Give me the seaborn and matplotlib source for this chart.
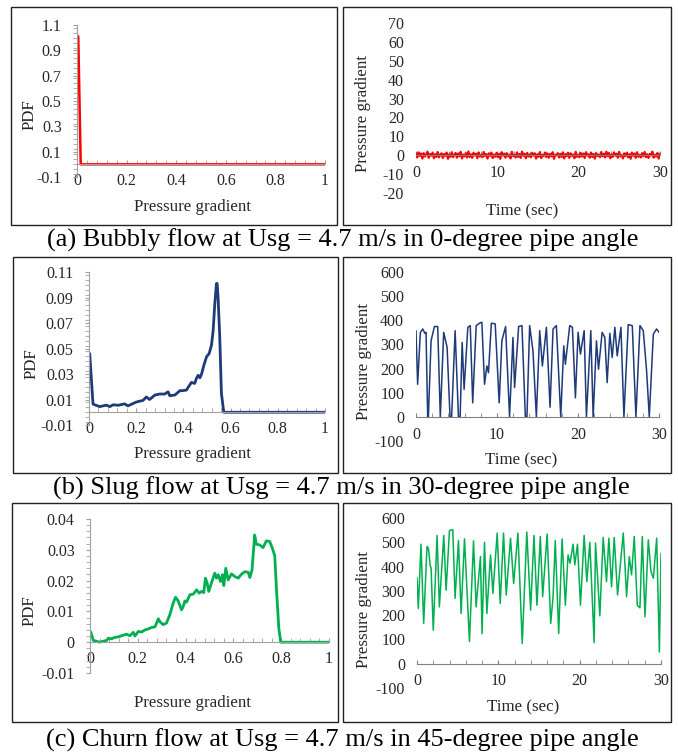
import numpy as np
import matplotlib
matplotlib.use('Agg')
import matplotlib.pyplot as plt
from matplotlib.patches import Rectangle
from matplotlib.ticker import MultipleLocator
import seaborn as sns

sns.set_style('white')
plt.rcParams['font.family'] = ['Liberation Serif', 'DejaVu Serif']
plt.rcParams['axes.unicode_minus'] = False

# (a) bubbly flow
pdf_a_x = [0.005, 0.015, 0.05, 0.2, 0.4, 0.6, 0.8, 1.0]
pdf_a_y = [1.01, 0.0, 0.0, 0.0, 0.0, 0.0, 0.0, 0.0]
noise_a = [0.8, -1.2, 1.5, -0.4, 0.9, -1.8, 1.1, -0.7, 0.3, 1.9, -1.4, 0.6, -0.2, 1.3, -1.6, 0.5,
           -0.9, 1.7, -1.1, 0.2, 1.0, -1.5, 0.7, -0.3, 1.4, -1.9, 0.4, -0.8, 1.6, -1.0, 0.1, 1.2,
           -1.3, 0.9, -0.5, 1.8, -1.7, 0.3, -0.6, 1.1, -1.2, 2.0, -0.9, 0.5, -1.4, 1.3, -0.1, 0.8,
           -1.6, 1.5, -0.7, 0.2, -1.1, 1.7, -0.4, 0.6, -1.8, 1.0, -0.3, 1.4, -1.5, 0.4, -0.8, 1.2,
           -1.0, 0.7, -1.9, 1.6, -0.2, 0.9, -1.3, 1.1, -0.6, 0.3, -1.7, 1.8, -0.5, 0.1, -1.2, 1.5,
           -0.9, 0.6, -1.4, 1.9, -0.3, 0.8, -1.6, 1.2, -0.7, 0.4, -1.1, 1.3, -0.2, 1.0, -1.8, 0.5,
           -0.8, 1.7, -1.5, 0.2, -0.4, 1.4, -1.0, 0.9, -1.3, 0.7, -0.6, 1.6, -1.9, 0.3, -0.1, 1.1,
           -1.2, 0.8, -0.9, 1.5, -1.7, 0.6, -0.5, 1.3, -1.4, 1.0, -0.3, 0.4, -1.6, 1.8, -0.8, 0.2,
           -1.1, 1.2, -0.7, 0.9, -1.5, 1.6, -0.2, 0.5, -1.3, 1.4, -0.9, 0.7, -1.8, 1.1, -0.4, 0.3,
           -1.0, 1.7, -0.6, 0.8, -1.2, 1.9, -0.5, 1.2, -1.6, 0.4, -0.9, 1.5, -0.2, 0.8, -1.3, 1.8,
           -0.6, 0.1, -1.7, 1.0, -0.4, 1.3, -1.1, 0.6, -1.9, 1.4, -0.3, 0.9, -1.4, 1.6, -0.8, 0.2,
           -1.2, 1.1, -0.5, 1.7, -1.0, 0.5, -1.5, 0.7, -0.1, 1.9, -1.3, 0.3, -0.7, 1.2, -1.8, 0.8]

# (b) slug flow
pdf_b_x = [0.003, 0.017, 0.045, 0.074, 0.088, 0.102, 0.125, 0.151, 0.165, 0.2, 0.229, 0.243, 0.257,
           0.279, 0.30, 0.321, 0.335, 0.342, 0.364, 0.385, 0.399, 0.413, 0.42, 0.434, 0.448, 0.455,
           0.4625, 0.470, 0.477, 0.487, 0.498, 0.509, 0.519, 0.526, 0.533, 0.540, 0.543, 0.547,
           0.554, 0.561, 0.571, 0.6, 0.8, 1.0]
pdf_b_y = [0.046, 0.0064, 0.0044, 0.0056, 0.0044, 0.0058, 0.0055, 0.0066, 0.005, 0.008, 0.0093,
           0.012, 0.010, 0.0135, 0.0143, 0.0143, 0.016, 0.013, 0.0135, 0.0169, 0.017, 0.0174, 0.0195,
           0.0234, 0.0226, 0.0265, 0.029, 0.027, 0.030, 0.037, 0.0435, 0.046, 0.0526, 0.064, 0.085,
           0.101, 0.101, 0.090, 0.059, 0.015, 0.0, 0.0, 0.0, 0.0]
ts_b_t = [0, 0.2, 0.54, 0.83, 1.1, 1.24, 1.44, 1.53, 1.86, 2.27, 2.68, 3.0, 3.42, 3.84, 4.2, 4.4,
          4.83, 5.24, 5.45, 5.7, 5.94, 6.4, 6.7, 7.0, 7.43, 7.84, 8.13, 8.46, 8.75, 8.95, 9.3, 9.78,
          10.27, 10.6, 11.06, 11.55, 11.97, 12.17, 12.67, 13.08, 13.5, 13.7, 14.03, 14.44, 14.86,
          15.27, 15.6, 16.1, 16.55, 16.92, 17.33, 17.87, 18.24, 18.44, 18.98, 19.31, 19.68, 20.01,
          20.3, 20.76, 21.04, 21.58, 21.87, 22.28, 22.53, 22.98, 23.31, 23.6, 23.93, 24.22, 24.55,
          24.84, 25.3, 25.67, 26.2, 26.7, 27.15, 27.65, 28.06, 28.47, 28.8, 29.3, 29.7, 30.0]
ts_b_v = [357, 135, 350, 364, 346, 350, 0, 0, 315, 374, 374, 0, 350, 288, 0, 0,
          357, 0, 0, 308, 114, 371, 378, 58, 378, 388, 392, 135, 211, 183, 388, 385,
          58, 315, 374, 0, 329, 121, 374, 378, 0, 0, 378, 274, 0,
          357, 211, 371, 40, 364, 378, 0, 294, 218, 378, 371, 79, 350,
          260, 357, 0, 357, 0, 315, 197, 350, 329, 142, 346, 246, 371,
          253, 371, 0, 382, 378, 0, 378, 357, 190, 0, 343, 364, 350]

# (c) churn flow
pdf_c_x = [0.003, 0.014, 0.04, 0.07, 0.077, 0.09, 0.105, 0.118, 0.132, 0.153, 0.167, 0.181, 0.188,
           0.202, 0.216, 0.23, 0.244, 0.258, 0.272, 0.286, 0.292, 0.306, 0.32, 0.334, 0.348, 0.358,
           0.369, 0.383, 0.39, 0.397, 0.404, 0.418, 0.432, 0.446, 0.457, 0.467, 0.476, 0.483, 0.49,
           0.497, 0.508, 0.522, 0.529, 0.536, 0.546, 0.554, 0.56, 0.568, 0.578, 0.592, 0.606, 0.62,
           0.634, 0.648, 0.662, 0.669, 0.678, 0.689, 0.696, 0.71, 0.724, 0.738, 0.752, 0.763, 0.773,
           0.78, 0.79, 0.798, 0.9, 1.0]
pdf_c_y = [0.0033, 0.0006, 0.0, 0.0006, 0.0013, 0.0011, 0.0016, 0.0017, 0.0021, 0.0026, 0.0021,
           0.0032, 0.002, 0.0035, 0.0033, 0.004, 0.0043, 0.0048, 0.005, 0.0076, 0.0067, 0.0057,
           0.0062, 0.0089, 0.0127, 0.0146, 0.0134, 0.0105, 0.0116, 0.0134, 0.013, 0.0154, 0.0156,
           0.017, 0.0159, 0.0165, 0.0161, 0.0208, 0.0192, 0.0165, 0.0192, 0.0224, 0.0208, 0.0219,
           0.0197, 0.0219, 0.0184, 0.024, 0.0202, 0.0222, 0.0213, 0.0208, 0.0221, 0.0229, 0.0227,
           0.021, 0.0235, 0.0348, 0.0318, 0.0316, 0.0307, 0.0329, 0.0327, 0.0305, 0.0281, 0.0175,
           0.0046, 0.0, 0.0, 0.0]
ts_c_t = [0, 0.16, 0.49, 0.82, 1.23, 1.4, 1.64, 1.73, 2.0, 2.47, 2.75, 3.29, 3.58, 3.99, 4.4, 4.68,
          5.1, 5.42, 5.84, 6.45, 6.95, 7.27, 7.8, 8.0, 8.3, 8.59, 9.04, 9.33, 9.86, 10.23, 10.64,
          10.97, 11.5, 11.88, 12.41, 12.94, 13.5, 13.97, 14.38, 14.75, 15.16, 15.45, 16.0, 16.44,
          16.73, 17.0, 17.42, 17.84, 18.24, 18.57, 18.82, 19.19, 19.4, 19.73, 20.1, 20.55, 20.88,
          21.25, 21.78, 21.95, 22.48, 22.89, 23.3, 23.59, 23.92, 24.25, 24.66, 25.36, 25.77, 26.1,
          26.38, 26.71, 27.08, 27.41, 27.7, 28.03, 28.44, 28.77, 29.06, 29.47, 29.8, 30.0]
ts_c_v = [354, 228, 492, 166, 483, 476, 400, 396, 138, 528, 234, 528, 303, 548, 552, 269,
          507, 207, 514, 92, 506, 234, 441, 124, 500, 207, 448, 290, 538, 248, 538,
          283, 517, 331, 538, 83, 542, 221, 528, 241, 524, 276, 534, 166,
          276, 507, 124, 514, 241, 448, 414, 492, 407, 492, 241, 528, 338,
          500, 87, 497, 197, 520, 338, 517, 317, 520, 283, 538, 276, 441,
          366, 524, 241, 230, 524, 193, 510, 379, 352, 517, 48, 455]

W, H = 678, 754
fig = plt.figure(figsize=(W / 100, H / 100), dpi=100)

def px_axes(l, t, r, b):
    return fig.add_axes([l / W, 1 - b / H, (r - l) / W, (b - t) / H])

def ftext(x, y, s, **kw):
    fig.text(x / W, 1 - y / H, s, ha='center', va='center', **kw)

axis_grey = '#a0a0a0'
tick_col = '#262626'
tick_size = 11.5

def pdf_axes(ax, x, y, color, lw, ylo, yhi, ymaj):
    sns.lineplot(x=x, y=y, ax=ax, color=color, linewidth=lw, estimator=None, sort=False)
    ax.set_xlim(0, 1)
    ax.set_ylim(ylo, yhi)
    ax.set_xlabel('')
    ax.set_ylabel('')
    yt = np.round(np.arange(ylo, yhi + ymaj / 2, ymaj), 4)
    ax.set_yticks(yt)
    ax.set_yticklabels(['{:g}'.format(v) for v in yt])
    ax.yaxis.set_minor_locator(MultipleLocator(ymaj / 5))
    ax.set_xticks([0, 0.2, 0.4, 0.6, 0.8, 1.0])
    ax.set_xticklabels(['0', '0.2', '0.4', '0.6', '0.8', '1'])
    ax.xaxis.set_minor_locator(MultipleLocator(0.04))
    for s in ['top', 'right']:
        ax.spines[s].set_visible(False)
    ax.spines['bottom'].set_position(('data', 0))
    ax.spines['bottom'].set_color(axis_grey)
    ax.spines['left'].set_color(axis_grey)
    ax.tick_params(axis='x', which='both', direction='in', length=3, color=axis_grey,
                   labelsize=tick_size, labelcolor=tick_col, pad=6, bottom=True)
    ax.tick_params(axis='y', which='both', direction='out', length=3, color=axis_grey,
                   labelsize=tick_size, labelcolor=tick_col, pad=8, left=True)
    ax.patch.set_alpha(0)

def ts_axes(ax, t, v, color, lw):
    sns.lineplot(x=t, y=v, ax=ax, color=color, linewidth=lw, estimator=None, sort=False)
    ax.set_xlim(0, 30)
    ax.set_xlabel('')
    ax.set_ylabel('')
    ax.xaxis.set_major_locator(MultipleLocator(10))
    ax.xaxis.set_minor_locator(MultipleLocator(2))
    for s in ['top', 'right', 'left']:
        ax.spines[s].set_visible(False)
    ax.spines['bottom'].set_position(('data', 0))
    ax.spines['bottom'].set_color('#808080')
    ax.tick_params(axis='x', which='both', direction='in', length=3, color='#808080',
                   labelsize=tick_size, labelcolor=tick_col, pad=7, bottom=True)
    ax.tick_params(axis='y', which='both', length=0, labelsize=tick_size, labelcolor=tick_col, pad=8.5)
    ax.patch.set_alpha(0)

red = '#ff0000'
navy = '#1f3a78'
green = '#00b050'

# row (a)
ax = px_axes(77, 25, 325, 177)
pdf_axes(ax, pdf_a_x, pdf_a_y, red, 1.8, -0.1, 1.1, 0.2)
ax = px_axes(416, 23, 660, 193)
ts_axes(ax, np.linspace(0, 30, len(noise_a)), noise_a, red, 1.6)
ax.set_ylim(-20, 70)
ax.set_yticks(range(-20, 71, 10))

# row (b)
ax = px_axes(89, 272, 325, 425)
pdf_axes(ax, pdf_b_x, pdf_b_y, navy, 2.0, -0.01, 0.11, 0.02)
ax = px_axes(416, 272, 659, 441)
ts_axes(ax, ts_b_t, ts_b_v, navy, 1.1)
ax.set_ylim(-100, 600)
ax.set_yticks(range(-100, 601, 100))

# row (c)
ax = px_axes(90, 519, 329, 673)
pdf_axes(ax, pdf_c_x, pdf_c_y, green, 2.0, -0.01, 0.04, 0.01)
ax = px_axes(417, 518, 661, 688)
ts_axes(ax, ts_c_t, ts_c_v, green, 1.1)
ax.set_ylim(-100, 600)
ax.set_yticks(range(-100, 601, 100))

# panel frames
for l, t, r, b in [(11, 7, 337, 225), (343, 7, 671, 225), (13, 257, 338, 473),
                   (343, 257, 671, 473), (12, 503, 338, 722), (343, 503, 671, 722)]:
    fig.add_artist(Rectangle((l / W, 1 - b / H), (r - l) / W, (b - t) / H,
                             transform=fig.transFigure, fill=False, edgecolor='#222222', linewidth=1))

# axis labels
lab = dict(fontsize=12.2, color=tick_col)
ftext(30, 115, 'PDF', rotation=90, **lab)
ftext(192, 207, 'Pressure gradient', **lab)
ftext(363, 114, 'Pressure gradient', rotation=90, **lab)
ftext(522, 211, 'Time (sec)', **lab)
ftext(32, 364, 'PDF', rotation=90, **lab)
ftext(193, 454, 'Pressure gradient', **lab)
ftext(364, 362, 'Pressure gradient', rotation=90, **lab)
ftext(521, 460, 'Time (sec)', **lab)
ftext(30, 611, 'PDF', rotation=90, **lab)
ftext(192, 703, 'Pressure gradient', **lab)
ftext(364, 609, 'Pressure gradient', rotation=90, **lab)
ftext(523, 707, 'Time (sec)', **lab)

# captions
cap = dict(fontsize=19, color='black')
ftext(343, 240, '(a) Bubbly flow at Usg = 4.7 m/s in 0-degree pipe angle', **cap)
ftext(341, 488, '(b) Slug flow at Usg = 4.7 m/s in 30-degree pipe angle', **cap)
ftext(342, 740, '(c) Churn flow at Usg = 4.7 m/s in 45-degree pipe angle', **cap)

fig.savefig('out.png', dpi=100, facecolor='white')
